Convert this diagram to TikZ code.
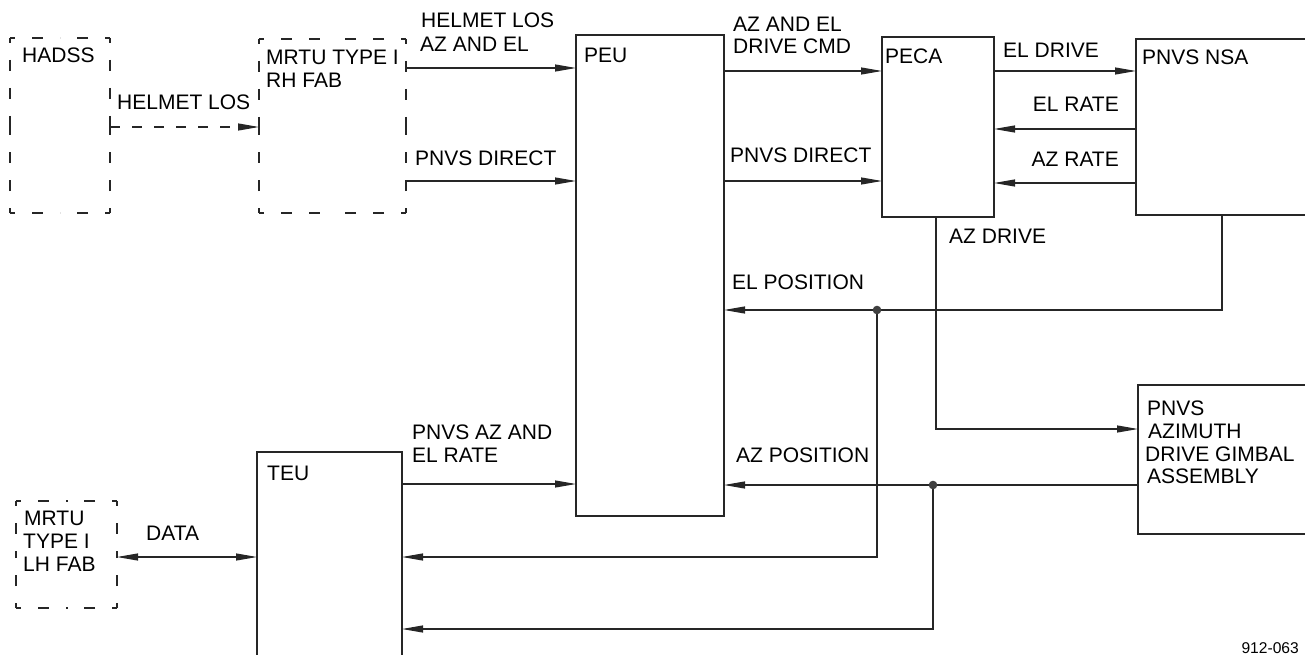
\documentclass[tikz,border=0pt]{standalone}
\usepackage{fontspec}
\setmainfont{Liberation Sans}
\usetikzlibrary{arrows.meta}
\newcommand\dashedsides[1]{%
  \foreach \a/\b in {north west/north, north east/north, north east/east, south east/east,
                     south east/south, south west/south, south west/west, north west/west}
    {\draw[dln] (#1.\a) -- (#1.\b);}}
\begin{document}
\begin{tikzpicture}[x=1pt,y=-1pt,
  ln/.style={line width=1.1pt, draw=black!85},
  box/.style={ln, rectangle, inner sep=0pt, outer sep=0pt, anchor=north west},
  dbox/.style={box, draw=none},
  dln/.style={ln, line cap=butt, dash pattern=on 11pt off 17pt, dash phase=6pt},
  tip/.style={-{Triangle[length=21pt,width=7pt]}},
  arr/.style={ln, tip},
  darr/.style={ln, {Triangle[length=21pt,width=7pt]}-{Triangle[length=21pt,width=7pt]}},
  dasharr/.style={arr, dash pattern=on 10pt off 12pt},
  lbl/.style={font=\fontsize{21}{23}\selectfont, inner sep=0pt, anchor=base west},
  rlbl/.style={lbl, anchor=base east},
  dotc/.style={fill=black!75}
]
\clip (0,0) rectangle (1305,655);
\fill[white] (0,0) rectangle (1305,655);

% boxes
\node[dbox, minimum width=100pt, minimum height=175pt] (hadss) at (10,38) {};
\node[dbox, minimum width=147pt, minimum height=174pt] (mrturh) at (259,39) {};
\node[box, minimum width=148pt, minimum height=481pt] (peu) at (576,35) {};
\node[box, minimum width=112pt, minimum height=180pt] (peca) at (882,37) {};
\node[box, minimum width=190pt, minimum height=176pt] (nsa) at (1136,39) {};
\node[box, minimum width=190pt, minimum height=149pt] (pnvsaz) at (1138,385) {};
\node[box, minimum width=145pt, minimum height=230pt] (teu) at (257,452) {};
\node[dbox, minimum width=101pt, minimum height=107pt] (mrtulh) at (16,501) {};
\dashedsides{hadss}
\dashedsides{mrturh}
\dashedsides{mrtulh}

% junctions
\coordinate (j1) at (877,310);
\coordinate (j2) at (933,485);

% connectors
\draw[dasharr] (hadss.east |- 0,127) -- (mrturh.west |- 0,127);
\draw[arr] (mrturh.east |- 0,68) -- (peu.west |- 0,68);
\draw[arr] (mrturh.east |- 0,181) -- (peu.west |- 0,181);
\draw[arr] (peu.east |- 0,71) -- (peca.west |- 0,71);
\draw[arr] (peu.east |- 0,181) -- (peca.west |- 0,181);
\draw[arr] (peca.east |- 0,71) -- (nsa.west |- 0,71);
\draw[arr] (nsa.west |- 0,129) -- (peca.east |- 0,129);
\draw[arr] (nsa.west |- 0,183) -- (peca.east |- 0,183);
\draw[arr] (peca.south -| 936,0) |- (pnvsaz.west |- 0,429);
\draw[arr] (nsa.south -| 1222,0) |- (peu.east |- 0,310);
\draw[arr] (j1) |- (teu.east |- 0,557);
\draw[arr] (pnvsaz.west |- 0,485) -- (peu.east |- 0,485);
\draw[arr] (j2) |- (teu.east |- 0,629);
\draw[arr] (teu.east |- 0,484) -- (peu.west |- 0,484);
\draw[darr] (mrtulh.east |- 0,557) -- (teu.west |- 0,557);
\fill[dotc] (j1) circle (4.3pt);
\fill[dotc] (j2) circle (4.3pt);

% labels
\node[lbl] (l1) at (22,63) {HADSS};
\node[lbl] (l2) at (266,65) {MRTU TYPE I};
\node[lbl] (l3) at (266,88) {RH FAB};
\node[lbl] (l4) at (117,110) {HELMET LOS};
\node[lbl] (l5) at (421,28) {HELMET LOS};
\node[lbl] (l6) at (420,52) {AZ AND EL};
\node[lbl] (l7) at (415,166) {PNVS DIRECT};
\node[lbl] (l8) at (584,63) {PEU};
\node[lbl] (l9) at (733,32) {AZ AND EL};
\node[lbl] (l10) at (733,54) {DRIVE CMD};
\node[lbl] (l11) at (730,163) {PNVS DIRECT};
\node[lbl] (l12) at (885,64) {PECA};
\node[lbl] (l13) at (1003,58) {EL DRIVE};
\node[rlbl] (l14) at (1119,112) {EL RATE};
\node[rlbl] (l15) at (1119,167) {AZ RATE};
\node[lbl] (l16) at (1142,65) {PNVS NSA};
\node[lbl] (l17) at (949,243) {AZ DRIVE};
\node[lbl] (l18) at (732,289) {EL POSITION};
\node[lbl] (l19) at (736,462) {AZ POSITION};
\node[lbl] (l20) at (267,480) {TEU};
\node[lbl] (l21) at (412,439) {PNVS AZ AND};
\node[lbl] (l22) at (412,462) {EL RATE};
\node[lbl] (l23) at (24,525) {MRTU};
\node[lbl] (l24) at (23,548) {TYPE I};
\node[lbl] (l25) at (23,571) {LH FAB};
\node[lbl] (l26) at (146,540) {DATA};
\node[lbl] (l27) at (1147,415) {PNVS};
\node[lbl] (l28) at (1148,438) {AZIMUTH};
\node[lbl] (l29) at (1145,461) {DRIVE GIMBAL};
\node[lbl] (l30) at (1147,483) {ASSEMBLY};
\node[rlbl, font=\fontsize{15.6}{17}\selectfont] (l31) at (1299,653) {912-063};
\end{tikzpicture}
\end{document}
